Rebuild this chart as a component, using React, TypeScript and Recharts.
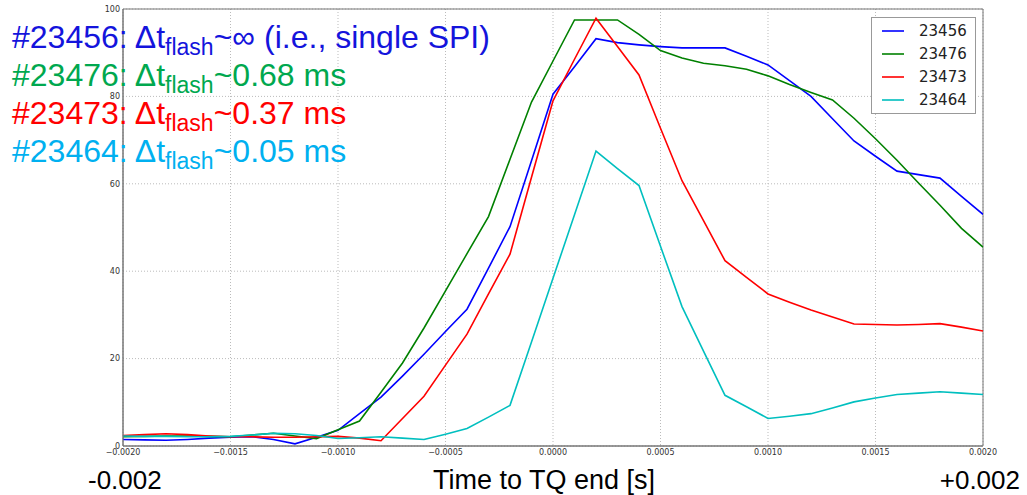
import React from "react"
import { LineChart, Line, XAxis, YAxis, CartesianGrid, Legend, ReferenceArea } from "recharts"

// time to TQ end [s], sampled every 0.1 ms
const times = [
  -0.002, -0.0019, -0.0018, -0.0017, -0.0016, -0.0015, -0.0014, -0.0013, -0.0012, -0.0011,
  -0.001, -0.0009, -0.0008, -0.0007, -0.0006, -0.0005, -0.0004, -0.0003, -0.0002, -0.0001,
  0, 0.0001, 0.0002, 0.0003, 0.0004, 0.0005, 0.0006, 0.0007, 0.0008, 0.0009,
  0.001, 0.0011, 0.0012, 0.0013, 0.0014, 0.0015, 0.0016, 0.0017, 0.0018, 0.0019, 0.002,
]

const shot23456 = [
  1.5, 1.4, 1.3, 1.5, 1.8, 2.0, 2.1, 1.5, 0.5, 2.0,
  3.6, 7.4, 11.2, 16.0, 21.0, 26.2, 31.3, 40.7, 50.2, 65.3,
  80.5, 86.8, 93.2, 92.3, 91.8, 91.4, 91.1, 91.1, 91.1, 89.2,
  87.2, 83.6, 80.0, 74.9, 69.8, 66.3, 62.9, 62.1, 61.3, 57.1, 53.0,
]
const shot23476 = [
  2.1, 2.2, 2.3, 2.3, 2.2, 2.1, 2.5, 2.9, 2.3, 1.7,
  3.7, 5.7, 12.3, 19.0, 27.0, 35.5, 44.0, 52.5, 65.6, 78.7,
  88.1, 97.5, 97.5, 97.5, 94.2, 90.5, 88.8, 87.6, 87.0, 86.2,
  84.7, 82.7, 80.9, 79.2, 75.0, 70.3, 65.4, 60.2, 55.1, 49.8, 45.5,
]
const shot23473 = [
  2.4, 2.6, 2.8, 2.6, 2.3, 2.1, 2.1, 2.0, 2.0, 2.1,
  2.2, 1.8, 1.2, 6.3, 11.4, 18.5, 25.6, 34.8, 43.9, 61.5,
  79.0, 88.5, 97.9, 91.4, 84.9, 72.7, 60.7, 51.6, 42.4, 38.6,
  34.8, 32.9, 31.1, 29.5, 27.9, 27.8, 27.7, 27.8, 28.0, 27.2, 26.3,
]
const shot23464 = [
  2.3, 2.2, 2.2, 2.1, 2.1, 2.2, 2.5, 2.9, 2.8, 2.4,
  1.7, 1.9, 2.1, 1.8, 1.5, 2.7, 4.0, 6.6, 9.3, 23.8,
  38.4, 52.9, 67.5, 63.5, 59.6, 45.7, 31.9, 21.7, 11.6, 9.0,
  6.3, 6.8, 7.4, 8.7, 10.1, 11.0, 11.8, 12.1, 12.4, 12.1, 11.8,
]

const xTicks = [-0.002, -0.0015, -0.001, -0.0005, 0, 0.0005, 0.001, 0.0015, 0.002]
const yTicks = [0, 20, 40, 60, 80, 100]

const series = [
  { key: "s23456", name: "23456", color: "#0000ff" },
  { key: "s23476", name: "23476", color: "#008000" },
  { key: "s23473", name: "23473", color: "#ff0000" },
  { key: "s23464", name: "23464", color: "#00bfbf" },
]

const notes = [
  { shot: "#23456", tail: "~∞ (i.e., single SPI)", color: "#1414dc" },
  { shot: "#23476", tail: "~0.68 ms", color: "#00a84f" },
  { shot: "#23473", tail: "~0.37 ms", color: "#ff0000" },
  { shot: "#23464", tail: "~0.05 ms", color: "#00b0f0" },
]

const rows = times.map((t, i) => ({
  t,
  s23456: shot23456[i],
  s23476: shot23476[i],
  s23473: shot23473[i],
  s23464: shot23464[i],
}))

const tickFont = { fontFamily: "DejaVu Sans", fontSize: 8, fill: "#333" }
const slideFont = "'Liberation Sans', Arial, sans-serif"

function fmtX(v: number) {
  const s = Math.abs(v).toFixed(4)
  return v < -1e-9 ? "\u2212" + s : s
}

// legend keeps the plotting order, not sorted
function LegendBox() {
  return (
    <div style={{ border: "1px solid #999", background: "#fff", padding: "2px 8px 2px 10px", fontFamily: "DejaVu Sans", fontSize: 15, color: "#222" }}>
      {series.map((s) => (
        <div key={s.key} style={{ display: "flex", alignItems: "center", height: 22.8 }}>
          <svg width={22} height={4} style={{ marginRight: 15 }}>
            <line x1={0} y1={2} x2={22} y2={2} stroke={s.color} strokeWidth={1.6} />
          </svg>
          <span>{s.name}</span>
        </div>
      ))}
    </div>
  )
}

export default function App() {
  return (
    <div style={{ position: "absolute", left: 0, top: 0, width: 1027, height: 495, background: "#fff", overflow: "hidden" }}>
      <LineChart width={1027} height={495} data={rows} margin={{ top: 9, right: 44, left: 0, bottom: 29 }}>
        <CartesianGrid stroke="#bbb" strokeDasharray="1 2" verticalValues={xTicks} horizontalValues={yTicks} />
        <XAxis
          dataKey="t"
          type="number"
          domain={[-0.002, 0.002]}
          ticks={xTicks}
          tickFormatter={fmtX}
          tick={tickFont}
          tickLine={false}
          tickSize={0}
          tickMargin={3}
          height={20}
          stroke="#777"
          allowDataOverflow
        />
        <YAxis
          type="number"
          domain={[0, 100]}
          ticks={yTicks}
          tick={tickFont}
          tickLine={false}
          tickSize={0}
          tickMargin={3}
          width={123}
          stroke="#777"
        />
        <ReferenceArea x1={-0.002} x2={0.002} y1={0} y2={100} fill="none" stroke="#777" strokeWidth={1} ifOverflow="visible" />
        <Legend
          layout="vertical"
          align="center"
          verticalAlign="middle"
          content={LegendBox}
          wrapperStyle={{ left: 871, top: 17, width: "auto" }}
        />
        {series.map((s) => (
          <Line
            key={s.key}
            type="linear"
            dataKey={s.key}
            name={s.name}
            stroke={s.color}
            strokeWidth={1.6}
            dot={false}
            isAnimationActive={false}
          />
        ))}
      </LineChart>
      <svg width={1027} height={495} style={{ position: "absolute", left: 0, top: 0, pointerEvents: "none" }}>
        {notes.map((n, i) => (
          <text key={n.shot} x={12} y={48 + i * 38} fontFamily={slideFont} fontSize={32} fill={n.color}>
            {n.shot}: Δt
            <tspan fontSize={23} dy={7}>flash</tspan>
            <tspan dy={-7}>{n.tail}</tspan>
          </text>
        ))}
        <text x={88} y={489} fontFamily={slideFont} fontSize={26} fill="#000">-0.002</text>
        <text x={544} y={489} textAnchor="middle" fontFamily={slideFont} fontSize={27} fill="#000">Time to TQ end [s]</text>
        <text x={1020} y={489} textAnchor="end" fontFamily={slideFont} fontSize={26} fill="#000">+0.002</text>
      </svg>
    </div>
  )
}
